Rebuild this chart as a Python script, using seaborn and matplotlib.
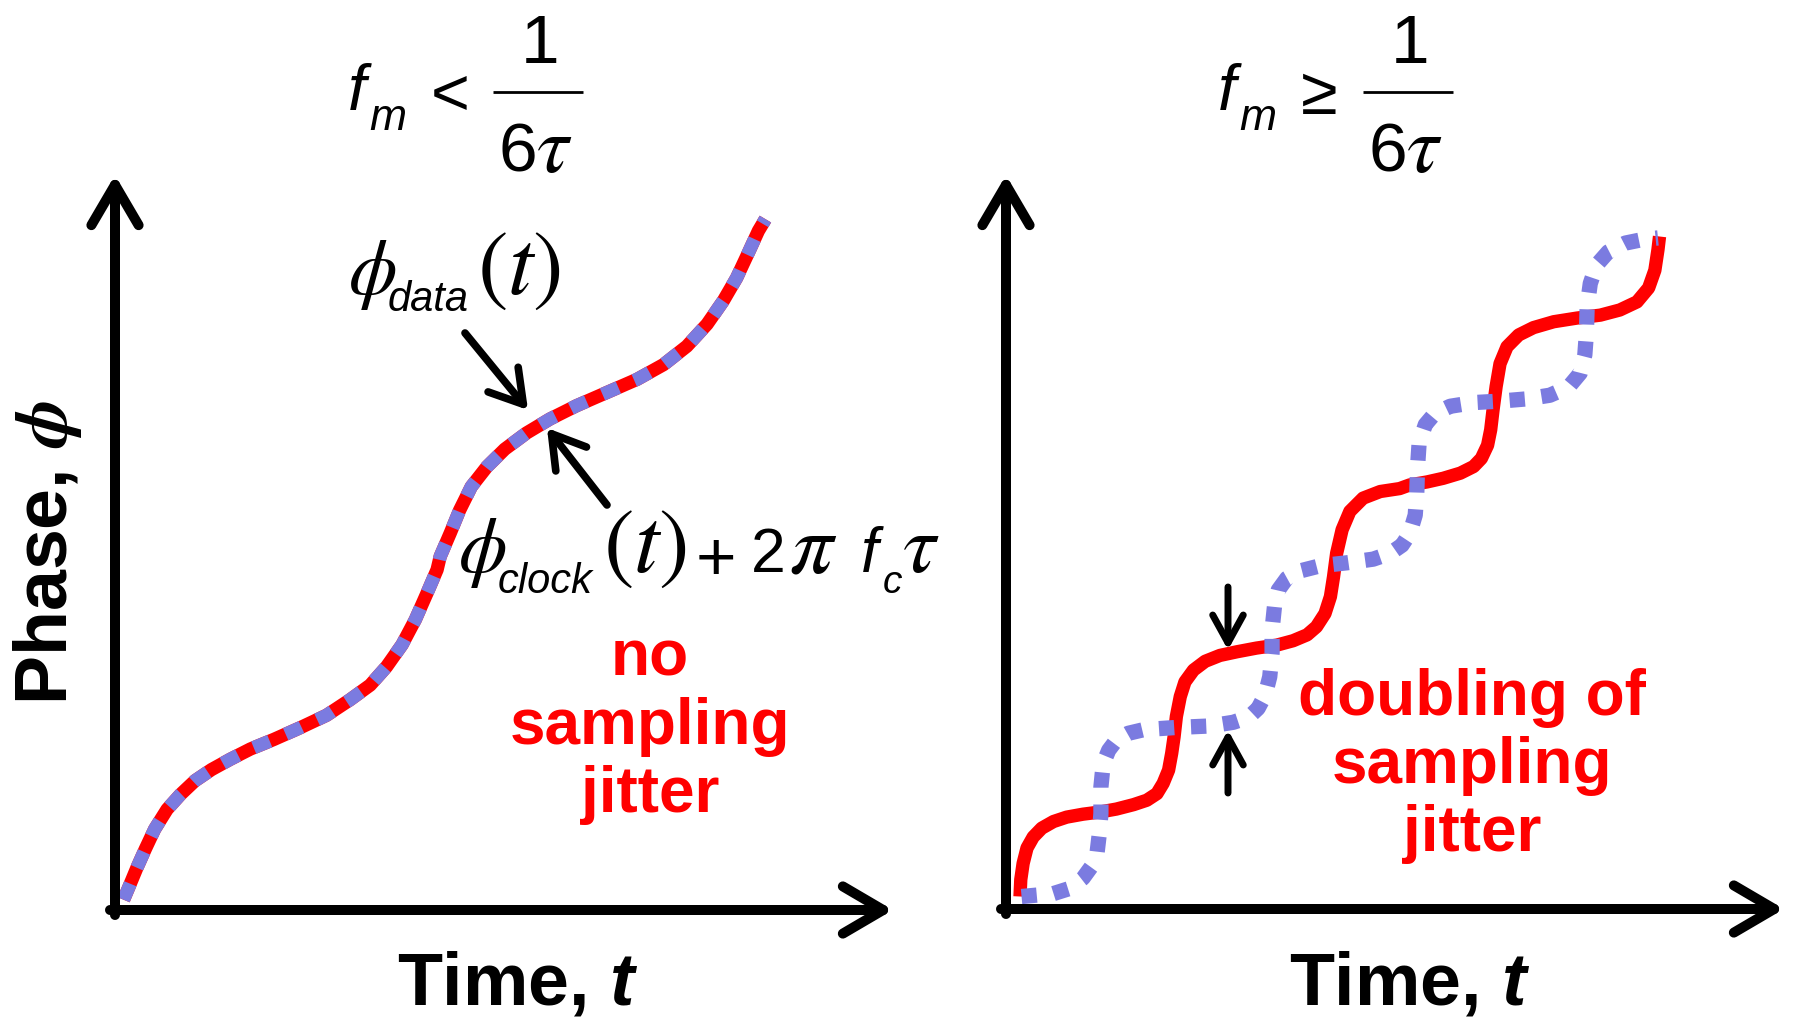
import matplotlib
matplotlib.use("Agg")
import matplotlib.pyplot as plt
import seaborn as sns
from matplotlib.lines import Line2D
from matplotlib.patches import FancyArrowPatch

# Slow modulation: data phase and delayed clock phase lie on top of each other
slow_t = [0.11, 0.19, 0.28, 0.39, 0.51, 0.67, 0.84, 1.03, 1.24, 1.48,
          1.74, 2.04, 2.38, 2.72, 3.02, 3.28, 3.49, 3.69, 3.86, 4.01,
          4.14, 4.18, 4.31, 4.43, 4.58, 4.78, 5.01, 5.29, 5.59, 5.93,
          6.32, 6.71, 7.05, 7.35, 7.61, 7.82, 7.99, 8.14, 8.27, 8.36]
slow_phase = [0.14, 0.34, 0.57, 0.83, 1.10, 1.37, 1.57, 1.76, 1.91, 2.05,
              2.19, 2.32, 2.48, 2.65, 2.86, 3.06, 3.31, 3.61, 3.95, 4.31,
              4.63, 4.81, 5.13, 5.44, 5.76, 6.03, 6.27, 6.49, 6.68, 6.86,
              7.04, 7.22, 7.42, 7.67, 7.97, 8.29, 8.60, 8.94, 9.24, 9.40]

# Fast modulation: data phase (solid)
fast_t_data = [0.18, 0.19, 0.22, 0.27, 0.35, 0.46, 0.61, 0.78, 0.99, 1.21,
               1.42, 1.64, 1.81, 1.94, 2.02, 2.09, 2.13, 2.16, 2.19, 2.24,
               2.30, 2.41, 2.56, 2.75, 2.97, 3.22, 3.48, 3.69, 3.87, 3.99,
               4.10, 4.17, 4.21, 4.25, 4.32, 4.42, 4.59, 4.81, 5.06, 5.19,
               5.41, 5.62, 5.84, 6.01, 6.11, 6.19, 6.23, 6.26, 6.30, 6.35,
               6.44, 6.59, 6.78, 7.04, 7.34, 7.64, 7.89, 8.11, 8.26, 8.34,
               8.38, 8.40]
fast_phase_data = [0.17, 0.40, 0.62, 0.83, 0.98, 1.10, 1.19, 1.25, 1.29, 1.32,
                   1.36, 1.42, 1.48, 1.57, 1.71, 1.89, 2.12, 2.34, 2.62, 2.89,
                   3.09, 3.25, 3.37, 3.45, 3.50, 3.55, 3.59, 3.65, 3.73, 3.84,
                   4.02, 4.25, 4.52, 4.84, 5.16, 5.41, 5.59, 5.68, 5.72, 5.77,
                   5.81, 5.86, 5.93, 6.02, 6.13, 6.31, 6.52, 6.79, 7.11, 7.42,
                   7.65, 7.81, 7.91, 7.99, 8.04, 8.08, 8.15, 8.26, 8.45, 8.69,
                   8.97, 9.15]

# Fast modulation: delayed clock phase (dotted)
fast_t_clock = [0.20, 0.61, 0.82, 0.99, 1.10, 1.17, 1.20, 1.22, 1.22, 1.25,
                1.32, 1.42, 1.57, 1.77, 2.19, 2.62, 2.92, 3.12, 3.24, 3.33,
                3.39, 3.42, 3.42, 3.45, 3.50, 3.61, 3.78, 4.04, 4.38, 4.72,
                4.94, 5.09, 5.19, 5.26, 5.28, 5.29, 5.31, 5.39, 5.51, 5.71,
                6.01, 6.35, 6.69, 6.99, 7.23, 7.38, 7.44, 7.46, 7.47, 7.51,
                7.59, 7.74, 7.96, 8.19, 8.38]
fast_phase_clock = [0.17, 0.21, 0.28, 0.42, 0.58, 0.76, 1.03, 1.30, 1.66, 1.98,
                    2.16, 2.30, 2.39, 2.44, 2.47, 2.49, 2.54, 2.61, 2.73, 2.91,
                    3.16, 3.48, 3.80, 4.11, 4.34, 4.50, 4.60, 4.67, 4.71, 4.76,
                    4.84, 4.95, 5.11, 5.36, 5.66, 6.02, 6.34, 6.59, 6.74, 6.84,
                    6.89, 6.91, 6.94, 6.99, 7.10, 7.29, 7.54, 7.83, 8.20, 8.51,
                    8.76, 8.94, 9.06, 9.11, 9.13]

note_left = "no\nsampling\njitter"
note_right = "doubling of\nsampling\njitter"
x_label = r"Time, $\mathbf{t}$"
y_label = r"Phase, $\mathcal{\phi}$"

RED = "#ff0000"
BLUE = "#7b7be0"
W, H = 1795, 1017
SANS = ["Liberation Sans", "DejaVu Sans"]
SERIF = ["STIXGeneral", "DejaVu Serif"]

sns.set_theme(style="white")
plt.rcParams["font.family"] = SANS
plt.rcParams["text.color"] = "black"
plt.rcParams["mathtext.fontset"] = "custom"
plt.rcParams["mathtext.rm"] = "Liberation Sans"
plt.rcParams["mathtext.it"] = "Liberation Sans:italic"
plt.rcParams["mathtext.bf"] = "Liberation Sans:bold:italic"
plt.rcParams["mathtext.cal"] = "STIXGeneral:bold:italic"

fig = plt.figure(figsize=(W / 100, H / 100), dpi=100, facecolor="white")


def box(x0, y0, x1, y1):
    return [x0 / W, 1 - y1 / H, (x1 - x0) / W, (y1 - y0) / H]


def fp(x, y):
    return (x, H - y)


def arrow(tail, tip, lw, hl, hw):
    fig.add_artist(FancyArrowPatch(
        posA=fp(*tail), posB=fp(*tip), transform=None,
        arrowstyle=f"->,head_length={hl},head_width={hw}",
        lw=lw, color="black", shrinkA=0, shrinkB=0, mutation_scale=1,
        capstyle="round", joinstyle="round"))


def put(x, y, s, size, family=SANS, style="normal", weight="normal",
        ha="left", color="black", **kw):
    fig.text(x / W, 1 - y / H, s, fontsize=size, fontfamily=family,
             fontstyle=style, fontweight=weight, ha=ha, va="baseline",
             color=color, **kw)


def hbar(x0, x1, y, lw=2.0):
    fig.add_artist(Line2D([x0, x1], [H - y, H - y], transform=None,
                          color="black", lw=lw, solid_capstyle="butt"))


axL = fig.add_axes(box(115, 175, 893, 910))
axR = fig.add_axes(box(1006, 174, 1784, 909))
for ax in (axL, axR):
    ax.set_xlim(0, 10)
    ax.set_ylim(0, 10)
    ax.axis("off")

line_kw = dict(sort=False, estimator=None, clip_on=False, legend=False)

# left panel: red data phase with the blue clock phase dashed on top
sns.lineplot(x=slow_t, y=slow_phase, ax=axL, color=RED, linewidth=9.6,
             solid_capstyle="butt", solid_joinstyle="round", **line_kw)
sns.lineplot(x=slow_t, y=slow_phase, ax=axL, color=BLUE, linewidth=9.6,
             linestyle=(0, (1.3, 1.3)), dash_capstyle="butt",
             dash_joinstyle="round", **line_kw)

# right panel: solid data phase, dotted clock phase
sns.lineplot(x=fast_t_data, y=fast_phase_data, ax=axR, color=RED,
             linewidth=9.6, solid_capstyle="butt", solid_joinstyle="round",
             **line_kw)
sns.lineplot(x=fast_t_clock, y=fast_phase_clock, ax=axR, color=BLUE,
             linewidth=11, linestyle=(0, (1, 1.1)), dash_capstyle="butt",
             dash_joinstyle="round", **line_kw)

# axis arrows
for x0, x1, y0 in ((115, 893, 910), (1006, 1784, 909)):
    arrow((x0, y0 + 5), (x0, 175), 7.2, 29, 17)
    arrow((x0 - 5, y0), (x1, y0), 7.2, 29, 17)

# pointer arrows
arrow((465, 333), (528, 410), 5.5, 23, 14)
arrow((607, 505), (547, 428), 5.5, 23, 14)
arrow((1228, 587), (1228, 650), 5.0, 20, 11)
arrow((1228, 793), (1228, 730), 5.0, 20, 11)

# titles: f_m < 1/(6 tau) and f_m >= 1/(6 tau)
for x0, rel in ((348, "<"), (1218, "\u2265")):
    put(x0, 110, "f", 47, SANS, "italic")
    put(x0 + 21, 130, "m", 32, SANS, "italic")
    put(x0 + 83, 114, rel, 48, SANS)
    hbar(x0 + 145, x0 + 235, 92)
    put(x0 + 192, 63, "1", 50, SANS, ha="center")
    put(x0 + 150, 172, "6", 50, SANS)
    put(x0 + 188, 172, "\u03c4", 58, SERIF, "italic")

# axis labels
for cx in (518, 1410):
    fig.text(cx / W, 1 - 1005 / H, x_label, fontsize=53, fontweight="bold",
             ha="center", va="baseline")
fig.text(47 / W, 1 - 552 / H, y_label, fontsize=53, fontweight="bold",
         rotation=90, ha="center", va="center")

# red notes
fig.text(650 / W, 1 - 727 / H, note_left, color=RED, fontsize=46,
         fontweight="bold", ha="center", va="center", linespacing=1.18,
         multialignment="center")
fig.text(1472 / W, 1 - 766 / H, note_right, color=RED, fontsize=46,
         fontweight="bold", ha="center", va="center", linespacing=1.18,
         multialignment="center")

# phi_data(t)
put(349, 294, "\u03d5", 56, SERIF, "italic")
put(388, 311, "data", 30, SANS, "italic")
put(477, 294, r"$(t)$", 66, math_fontfamily="stix")

# phi_clock(t) + 2 pi f_c tau
put(459, 572, "\u03d5", 56, SERIF, "italic")
put(498, 593, "clock", 30, SANS, "italic")
put(603, 572, r"$(t)$", 66, math_fontfamily="stix")
put(696, 580, "+", 50, SANS)
put(751, 572, "2", 45, SANS)
put(789, 572, "\u03c0", 62, SERIF, "italic")
put(861, 572, "f", 45, SANS, "italic")
put(883, 593, "c", 28, SANS, "italic")
put(903, 572, "\u03c4", 60, SERIF, "italic")

fig.savefig("out.png", dpi=100, facecolor="white")
